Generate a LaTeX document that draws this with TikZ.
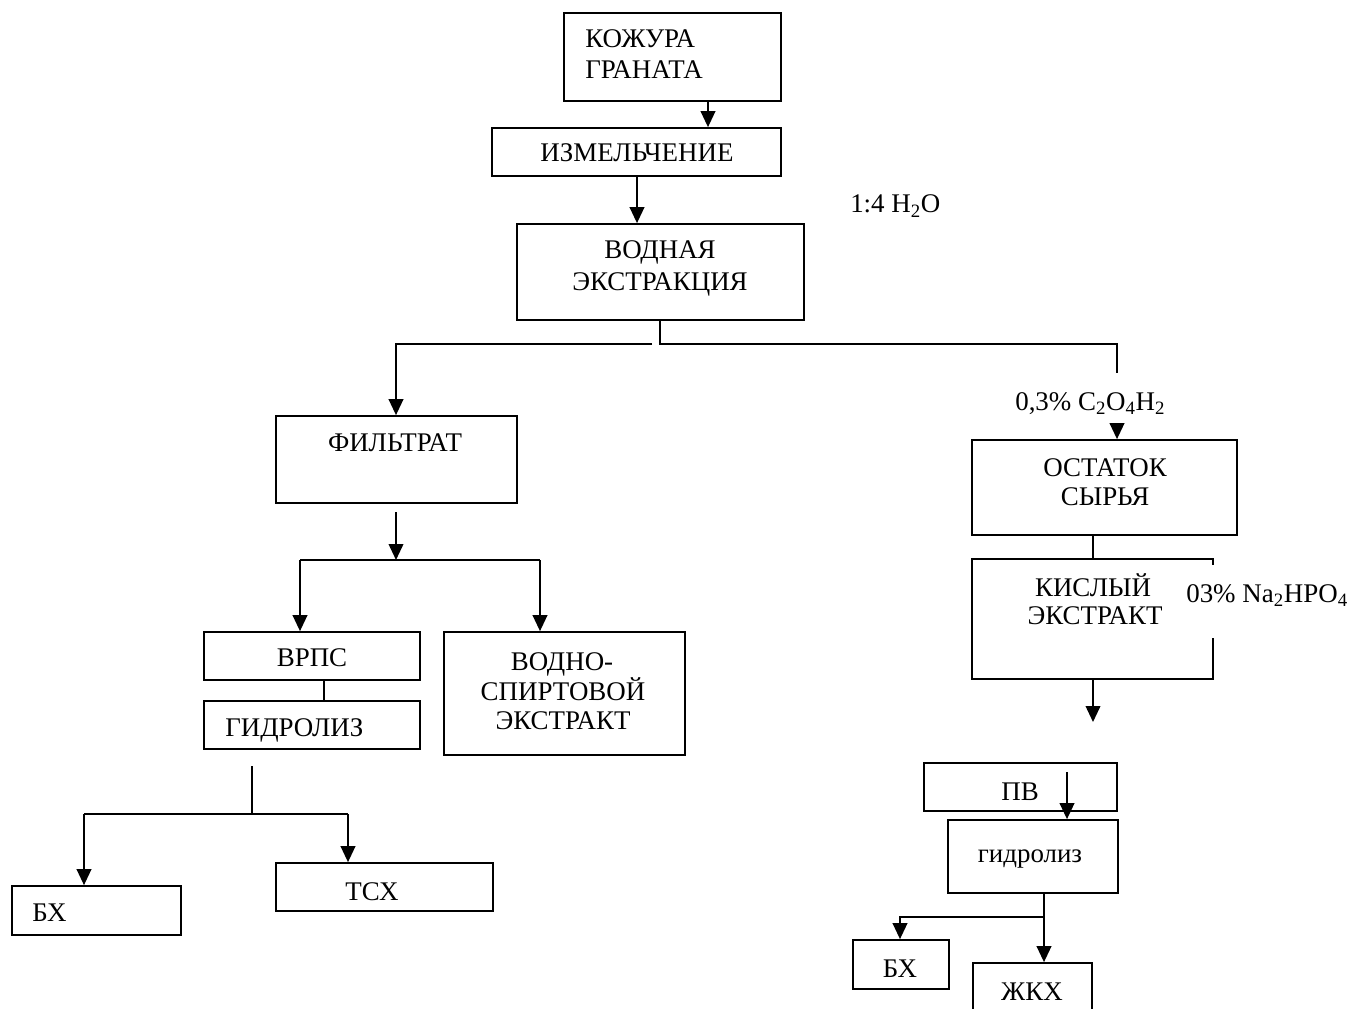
\documentclass[tikz,border=0pt]{standalone}
\usepackage{fontspec}
\setmainfont{Liberation Serif}
\usetikzlibrary{arrows.meta,fit}
\begin{document}
\begin{tikzpicture}[x=0.75pt,y=-0.75pt,
  box/.style={draw, line width=1.3pt, inner sep=0pt},
  lbl/.style={inner sep=0pt, font=\fontsize{20.2}{24}\selectfont},
  ln/.style={line width=1.3pt},
  arr/.style={line width=1.3pt, -{Triangle[length=12pt,width=11pt]}}]
\useasboundingbox (0,0) rectangle (1362,1009);
\clip (0,0) rectangle (1362,1009);
% boxes
\node[box, fit={(564,13) (781,101)}] (kozh) {};
\node[box, fit={(492,128) (781,176)}] (izm) {};
\node[box, fit={(517,224) (804,320)}] (vod) {};
\node[box, fit={(276,416) (517,503)}] (fil) {};
\node[box, fit={(972,440) (1237,535)}] (ost) {};
\node[inner sep=0pt, fit={(972,559) (1213,679)}] (kis) {};
\node[box, fit={(204,632) (420,680)}] (vrps) {};
\node[box, fit={(204,701) (420,749)}] (gidr) {};
\node[box, fit={(444,632) (685,755)}] (vs) {};
\node[box, fit={(12,886) (181,935)}] (bx1) {};
\node[box, fit={(276,863) (493,911)}] (tsx) {};
\node[box, fit={(924,763) (1117,811)}] (pv) {};
\node[box, fit={(948,820) (1118,893)}] (gid2) {};
\node[box, fit={(853,940) (949,989)}] (bx2) {};
\node[box, fit={(973,963) (1092,1040)}] (zhkx) {};
\draw[ln] (kis.north east) ++(0,6) -- ++(0,-6) -- (kis.north west) -- (kis.south west) -- (kis.south east) -- ++(0,-41);
% texts
\node[lbl, anchor=base west] (t1) at (585,48) {КОЖУРА};
\node[lbl, anchor=base west] (t2) at (585,79) {ГРАНАТА};
\node[lbl, anchor=base] (t3) at (637,162) {ИЗМЕЛЬЧЕНИЕ};
\node[lbl, anchor=base west] (t4) at (850,213) {1:4 H\textsubscript{2}O};
\node[lbl, anchor=base] (t5) at (660,258) {ВОДНАЯ};
\node[lbl, anchor=base] (t6) at (660,290) {ЭКСТРАКЦИЯ};
\node[lbl, anchor=base] (t7) at (395,451) {ФИЛЬТРАТ};
\node[lbl, anchor=base west] (t8) at (1015,410) {0,3\% C\textsubscript{2}O\textsubscript{4}H\textsubscript{2}};
\node[lbl, anchor=base] (t9) at (1105,476) {ОСТАТОК};
\node[lbl, anchor=base] (t10) at (1105,505) {СЫРЬЯ};
\node[lbl, anchor=base] (t11) at (1093,596) {КИСЛЫЙ};
\node[lbl, anchor=base] (t12) at (1095,624) {ЭКСТРАКТ};
\node[lbl, anchor=base west] (t13) at (1186,602) {03\% Na\textsubscript{2}HPO\textsubscript{4}};
\node[lbl, anchor=base] (t14) at (312,666) {ВРПС};
\node[lbl, anchor=base west] (t15) at (225,736) {ГИДРОЛИЗ};
\node[lbl, anchor=base] (t16) at (562,670) {ВОДНО-};
\node[lbl, anchor=base] (t17) at (563,700) {СПИРТОВОЙ};
\node[lbl, anchor=base] (t18) at (563,729) {ЭКСТРАКТ};
\node[lbl, anchor=base west] (t19) at (32,921) {БХ};
\node[lbl, anchor=base] (t20) at (372,900) {ТСХ};
\node[lbl, anchor=base] (t21) at (1020,800) {ПВ};
\node[lbl, anchor=base] (t22) at (1030,862) {гидролиз};
\node[lbl, anchor=base] (t23) at (900,977) {БХ};
\node[lbl, anchor=base] (t24) at (1032,1000) {ЖКХ};
% connector coordinates
\coordinate (xa) at (708,0);
\coordinate (xb) at (637,0);
\coordinate (xc) at (660,344);
\coordinate (xd) at (1117,344);
\coordinate (xe) at (1117,373);
\coordinate (xf) at (652,344);
\coordinate (xg) at (396,344);
\coordinate (xh) at (396,512);
\coordinate (xi) at (396,560);
\coordinate (xj) at (300,560);
\coordinate (xk) at (540,560);
\coordinate (xl) at (324,0);
\coordinate (xm) at (252,766);
\coordinate (xn) at (252,814);
\coordinate (xo) at (84,814);
\coordinate (xp) at (348,814);
\coordinate (xq) at (1117,423);
\coordinate (xr) at (1093,0);
\coordinate (xs) at (1093,722);
\coordinate (xt) at (1067,772);
\coordinate (xu) at (1044,917);
\coordinate (xv) at (900,917);
% connectors
\draw[arr] (kozh.south -| xa) -- (izm.north -| xa);
\draw[arr] (izm.south -| xb) -- (vod.north -| xb);
\draw[ln] (vod.south -| xc) -- (xc) -- (xd) -- (xe);
\draw[arr] (xf) -- (xg) -- (fil.north -| xg);
\draw[arr] (xq) -- (ost.north -| xq);
\draw[arr] (xh) -- (xi);
\draw[ln] (xj) -- (xk);
\draw[arr] (xj) -- (vrps.north -| xj);
\draw[arr] (xk) -- (vs.north -| xk);
\draw[ln] (vrps.south -| xl) -- (gidr.north -| xl);
\draw[ln] (xm) -- (xn);
\draw[ln] (xo) -- (xp);
\draw[arr] (xo) -- (bx1.north -| xo);
\draw[arr] (xp) -- (tsx.north -| xp);
\draw[ln] (ost.south -| xr) -- (kis.north -| xr);
\draw[arr] (kis.south -| xr) -- (xs);
\draw[arr] (xt) -- (gid2.north -| xt);
\draw[arr] (gid2.south -| xu) -- (zhkx.north -| xu);
\draw[arr] (xu) -- (xv) -- (bx2.north -| xv);
\end{tikzpicture}
\end{document}
